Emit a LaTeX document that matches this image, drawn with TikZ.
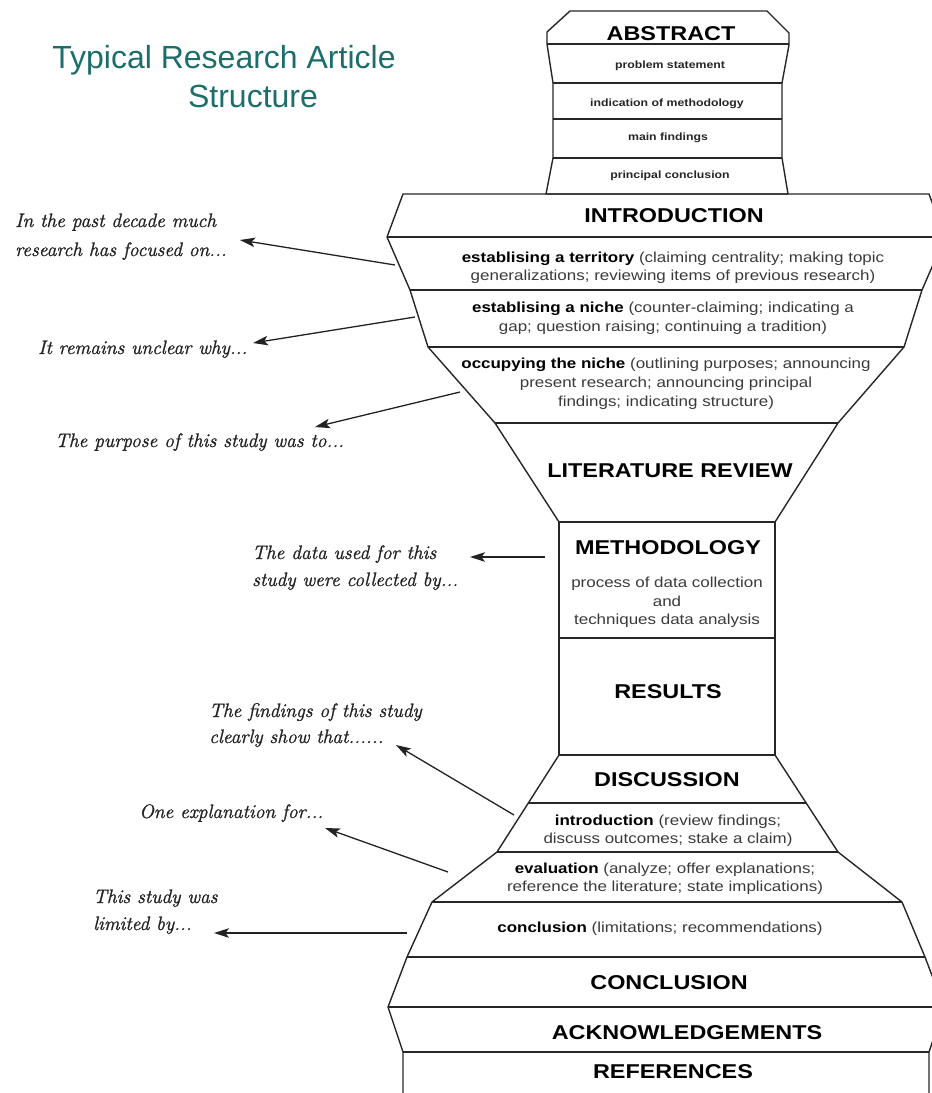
\documentclass[tikz,border=0pt]{standalone}
\usepackage{fontspec}
\usetikzlibrary{arrows.meta}

% Box lettering is a slightly widened sans; the title keeps normal proportions
\newfontfamily\boxfont[FakeStretch=1.17]{Liberation Sans}
\newfontfamily\titlefont{Liberation Sans}
% Sample phrases: a darkened roman italic
\newfontfamily\handfont[FakeBold=1.2]{lmroman12-italic.otf}

\definecolor{titleteal}{HTML}{1B6E6C}
\definecolor{framegray}{HTML}{262626}
\definecolor{bodygray}{HTML}{3A3A3A}
\definecolor{notegray}{HTML}{222222}

\tikzset{
  frameline/.style={draw=framegray, line width=1.4pt, line join=round},
  titletext/.style={font=\titlefont\fontsize{32}{38}\selectfont, text=titleteal, anchor=base, inner sep=0pt},
  boxhead/.style={font=\boxfont\bfseries\fontsize{20}{24}\selectfont, text=black, anchor=base, inner sep=0pt},
  boxitem/.style={font=\boxfont\bfseries\fontsize{10.5}{12}\selectfont, text=black!85, anchor=base, inner sep=0pt},
  boxbody/.style={font=\boxfont\fontsize{14.5}{18}\selectfont, text=bodygray, anchor=base, inner sep=0pt},
  handnote/.style={font=\handfont\fontsize{19.5}{23}\selectfont, text=notegray, anchor=base west, inner sep=0pt},
  notearrow/.style={draw=notegray, line width=1.3pt, -{Stealth[length=15pt,width=9.5pt,inset=3.5pt]}},
}

\begin{document}
\begin{tikzpicture}[x=1pt,y=-1pt]
\useasboundingbox (0,0) rectangle (932,1093);
\clip (0,0) rectangle (932,1093);

% ---------------- title ----------------
\node[titletext] (titleA) at (224,68) {Typical Research Article};
\node[titletext] (titleB) at (253,107) {Structure};

% ---------------- abstract block ----------------
\draw[frameline] (570,11) -- (767,11) -- (789,33) -- (789,45) -- (782,83) -- (782,158)
  -- (788,194) -- (546,194) -- (553,158) -- (553,83) -- (547,44) -- (547,32) -- cycle;
\draw[frameline] (547,44) -- (789,44);
\draw[frameline] (553,83) -- (782,83);
\draw[frameline] (553,119) -- (782,119);
\draw[frameline] (553,158) -- (782,158);

\node[boxhead] (abstract) at (671,40) {ABSTRACT};
\node[boxitem] (problem) at (670,68) {problem statement};
\node[boxitem] (indication) at (667,106) {indication of methodology};
\node[boxitem] (mainfind) at (668,140) {main findings};
\node[boxitem] (principal) at (670,178) {principal conclusion};

% ---------------- introduction funnel and literature review ----------------
\draw[frameline] (403,194) -- (929,194) -- (945,237) -- (922,290) -- (904,347) -- (838,423)
  -- (775,522) -- (559,522) -- (495,423) -- (428,347) -- (410,290) -- (387,237) -- cycle;
\draw[frameline] (387,237) -- (945,237);
\draw[frameline] (410,290) -- (922,290);
\draw[frameline] (428,347) -- (904,347);
\draw[frameline] (495,423) -- (838,423);

\node[boxhead] (intro) at (674,222) {INTRODUCTION};
\node[boxbody] (terrA) at (673,262) {\textbf{\color{black}establising a territory} (claiming centrality; making topic};
\node[boxbody] (terrB) at (673,280) {generalizations; reviewing items of previous research)};
\node[boxbody] (nicheA) at (663,312) {\textbf{\color{black}establising a niche} (counter-claiming; indicating a};
\node[boxbody] (nicheB) at (663,331) {gap; question raising; continuing a tradition)};
\node[boxbody] (occA) at (666,368) {\textbf{\color{black}occupying the niche} (outlining purposes; announcing};
\node[boxbody] (occB) at (666,387) {present research; announcing principal};
\node[boxbody] (occC) at (666,406) {findings; indicating structure)};
\node[boxhead] (litrev) at (670,477) {LITERATURE REVIEW};

% ---------------- methodology and results ----------------
\draw[frameline] (559,522) rectangle (775,755);
\draw[frameline] (559,638) -- (775,638);

\node[boxhead] (method) at (668,554) {METHODOLOGY};
\node[boxbody] (methA) at (667,587) {process of data collection};
\node[boxbody] (methB) at (667,606) {and};
\node[boxbody] (methC) at (667,624) {techniques data analysis};
\node[boxhead] (results) at (668,698) {RESULTS};

% ---------------- discussion and closing sections ----------------
\draw[frameline] (559,755) -- (775,755) -- (838,852) -- (902,902) -- (925,957) -- (944,1007)
  -- (929,1052) -- (929,1100) -- (403,1100) -- (403,1052) -- (388,1007) -- (407,957)
  -- (432,902) -- (497,852) -- cycle;
\draw[frameline] (528,803) -- (806,803);
\draw[frameline] (497,852) -- (838,852);
\draw[frameline] (432,902) -- (902,902);
\draw[frameline] (407,957) -- (925,957);
\draw[frameline] (388,1007) -- (944,1007);
\draw[frameline] (403,1052) -- (929,1052);

\node[boxhead] (discussion) at (667,786) {DISCUSSION};
\node[boxbody] (discA) at (668,825) {\textbf{\color{black}introduction} (review findings;};
\node[boxbody] (discB) at (668,843) {discuss outcomes; stake a claim)};
\node[boxbody] (evalA) at (665,873) {\textbf{\color{black}evaluation} (analyze; offer explanations;};
\node[boxbody] (evalB) at (665,891) {reference the literature; state implications)};
\node[boxbody] (concl) at (660,932) {\textbf{\color{black}conclusion} (limitations; recommendations)};
\node[boxhead] (conclusion) at (669,989) {CONCLUSION};
\node[boxhead] (ack) at (687,1039) {ACKNOWLEDGEMENTS};
\node[boxhead] (refs) at (673,1078) {REFERENCES};

% ---------------- sample phrases ----------------
\node[handnote] (pastA) at (15,227) {In the past decade much};
\node[handnote] (pastB) at (15,256) {research has focused on...};
\node[handnote] (unclear) at (38,354) {It remains unclear why...};
\node[handnote] (purpose) at (55,447) {The purpose of this study was to...};
\node[handnote] (dataA) at (252,559) {The data used for this};
\node[handnote] (dataB) at (252,586) {study were collected by...};
\node[handnote] (findA) at (209,717) {The findings of this study};
\node[handnote] (findB) at (209,743) {clearly show that......};
\node[handnote] (explain) at (139,818) {One explanation for...};
\node[handnote] (limitA) at (93,903) {This study was};
\node[handnote] (limitB) at (93,930) {limited by...};

% ---------------- pointers from sections to phrases ----------------
\coordinate (terrOut) at (395,265);   \coordinate (pastTip) at (240,240);
\coordinate (nicheOut) at (415,317);  \coordinate (unclearTip) at (253,343);
\coordinate (occOut) at (460,392);    \coordinate (purposeTip) at (315,427);
\coordinate (methOut) at (545,557);   \coordinate (dataTip) at (470,557);
\coordinate (discOut) at (514,815);   \coordinate (findTip) at (396,745);
\coordinate (evalOut) at (448,872);   \coordinate (explainTip) at (325,828);
\coordinate (conclOut) at (407,933);  \coordinate (limitTip) at (214,933);

\draw[notearrow] (terrOut) -- (pastTip);
\draw[notearrow] (nicheOut) -- (unclearTip);
\draw[notearrow] (occOut) -- (purposeTip);
\draw[notearrow] (methOut) -- (dataTip);
\draw[notearrow] (discOut) -- (findTip);
\draw[notearrow] (evalOut) -- (explainTip);
\draw[notearrow] (conclOut) -- (limitTip);
\end{tikzpicture}
\end{document}
